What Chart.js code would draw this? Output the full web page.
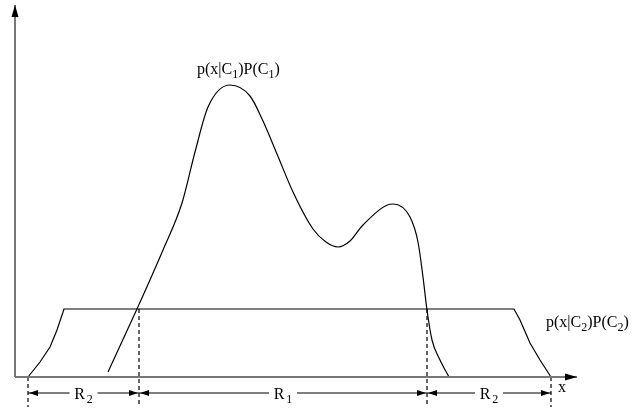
<!DOCTYPE html>
<html>
<head>
<meta charset="utf-8">
<script src="https://cdn.jsdelivr.net/npm/chart.js@4"></script>
<style>
  html, body { margin: 0; padding: 0; background: #fff; }
  canvas { display: block; }
</style>
</head>
<body>
<canvas id="myChart" width="633" height="412"></canvas>
<script>
// curve p(x|C1)P(C1)
const c1X = [1.86, 2.44, 2.96, 3.34, 3.60, 3.86, 4.30, 4.70, 4.96, 5.24, 5.56, 5.96, 6.22, 6.46, 6.70, 6.96, 7.56, 7.90, 8.06, 8.16, 8.24, 8.34, 8.50, 8.68];
const c1Y = [0.10, 1.36, 2.54, 3.48, 4.50, 5.40, 5.84, 5.62, 5.12, 4.46, 3.70, 2.96, 2.70, 2.60, 2.72, 3.04, 3.46, 3.20, 2.70, 2.00, 1.34, 0.74, 0.34, 0.00];

// curve p(x|C2)P(C2)
const c2X = [0.26, 0.50, 0.70, 0.84, 0.98, 9.98, 10.10, 10.30, 10.50, 10.72];
const c2Y = [0.00, 0.30, 0.60, 0.94, 1.36, 1.36, 1.14, 0.68, 0.34, 0.00];

// decision boundaries and regions
const boundaries = [0.26, 2.48, 8.24, 10.72];
const boundaryTop = [0, 1.36, 1.36, 0];
const regionLabels = ['R2', 'R1', 'R2'];
const axisEnd = { x: 11.24, y: 7.44 };
const arrowRowY = -0.32;
const dashBottom = -0.6;

const pts = (xs, ys) => xs.map((x, i) => ({ x: x, y: ys[i] }));

const datasets = [
  { data: [{ x: 0, y: 0 }, { x: 0, y: axisEnd.y }], borderColor: '#777', borderWidth: 2 },
  { data: [{ x: 0, y: 0 }, { x: axisEnd.x, y: 0 }], borderColor: '#777', borderWidth: 2 },
  { data: pts(c2X, c2Y), borderColor: '#000', borderWidth: 1.2, tension: 0 },
  { data: pts(c1X, c1Y), borderColor: '#000', borderWidth: 1.2, cubicInterpolationMode: 'monotone' }
];
boundaries.forEach((b, i) => {
  datasets.push({ data: [{ x: b, y: boundaryTop[i] }, { x: b, y: dashBottom }], borderColor: '#000', borderWidth: 1.2, borderDash: [4, 3] });
});
for (let i = 0; i < regionLabels.length; i++) {
  datasets.push({ data: [{ x: boundaries[i], y: arrowRowY }, { x: boundaries[i + 1], y: arrowRowY }], borderColor: '#000', borderWidth: 1.2 });
}

function arrowHead(ctx, x, y, dx, dy, len, half) {
  const px = -dy, py = dx;
  ctx.beginPath();
  ctx.moveTo(x, y);
  ctx.lineTo(x - dx * len + px * half, y - dy * len + py * half);
  ctx.lineTo(x - dx * len - px * half, y - dy * len - py * half);
  ctx.closePath();
  ctx.fill();
}

const BIG = '16px "Liberation Serif", "DejaVu Serif", serif';
const SMALL = '12px "Liberation Serif", "DejaVu Serif", serif';

// text with subscripts: parts = [[text, sub], ...]
function richText(ctx, parts, x, y, align, gap) {
  gap = gap || 0;
  let w = 0;
  parts.forEach(p => { ctx.font = p[1] ? SMALL : BIG; w += ctx.measureText(p[0]).width + (p[1] ? gap : 0); });
  let cx = align === 'center' ? x - w / 2 : x;
  ctx.textAlign = 'left';
  ctx.textBaseline = 'alphabetic';
  parts.forEach(p => {
    ctx.font = p[1] ? SMALL : BIG;
    if (p[1]) cx += gap;
    ctx.fillText(p[0], cx, p[1] ? y + 4 : y);
    cx += ctx.measureText(p[0]).width;
  });
  return w;
}

const decorations = {
  id: 'decorations',
  afterDatasetsDraw(chart) {
    const ctx = chart.ctx;
    const xs = chart.scales.x, ys = chart.scales.y;
    ctx.save();
    ctx.fillStyle = '#000';
    // axis arrow heads
    arrowHead(ctx, xs.getPixelForValue(0), ys.getPixelForValue(axisEnd.y), 0, -1, 12, 3.5);
    arrowHead(ctx, xs.getPixelForValue(axisEnd.x), ys.getPixelForValue(0), 1, 0, 12, 3.5);
    // region arrows and labels
    const ay = ys.getPixelForValue(arrowRowY);
    for (let i = 0; i < regionLabels.length; i++) {
      const x0 = xs.getPixelForValue(boundaries[i]) + 1;
      const x1 = xs.getPixelForValue(boundaries[i + 1]) - 1;
      arrowHead(ctx, x0, ay, -1, 0, 9, 3);
      arrowHead(ctx, x1, ay, 1, 0, 9, 3);
      const lab = regionLabels[i];
      const mid = (x0 + x1) / 2;
      ctx.fillStyle = '#fff';
      ctx.fillRect(mid - 14, ay - 9, 28, 18);
      ctx.fillStyle = '#000';
      richText(ctx, [[lab[0], false], [lab.slice(1), true]], mid, ay + 6, 'center', 2);
    }
    // curve labels
    richText(ctx, [['p(x|C', false], ['1', true], [')P(C', false], ['1', true], [')', false]],
      xs.getPixelForValue(3.64), ys.getPixelForValue(6.06), 'left');
    richText(ctx, [['p(x|C', false], ['2', true], [')P(C', false], ['2', true], [')', false]],
      xs.getPixelForValue(10.62), ys.getPixelForValue(1.0), 'left');
    // x axis label
    ctx.font = BIG;
    ctx.textAlign = 'left';
    ctx.fillText('x', xs.getPixelForValue(10.86), ys.getPixelForValue(-0.3));
    ctx.restore();
  }
};

new Chart(document.getElementById('myChart').getContext('2d'), {
  type: 'scatter',
  data: { datasets: datasets },
  options: {
    responsive: false,
    animation: false,
    showLine: true,
    layout: { padding: 0 },
    elements: { point: { radius: 0, hoverRadius: 0 }, line: { fill: false } },
    plugins: { legend: { display: false }, tooltip: { enabled: false } },
    scales: {
      x: { type: 'linear', min: -0.3, max: 12.36, display: false },
      y: { type: 'linear', min: -0.7, max: 7.54, display: false }
    }
  },
  plugins: [decorations]
});
</script>
</body>
</html>
